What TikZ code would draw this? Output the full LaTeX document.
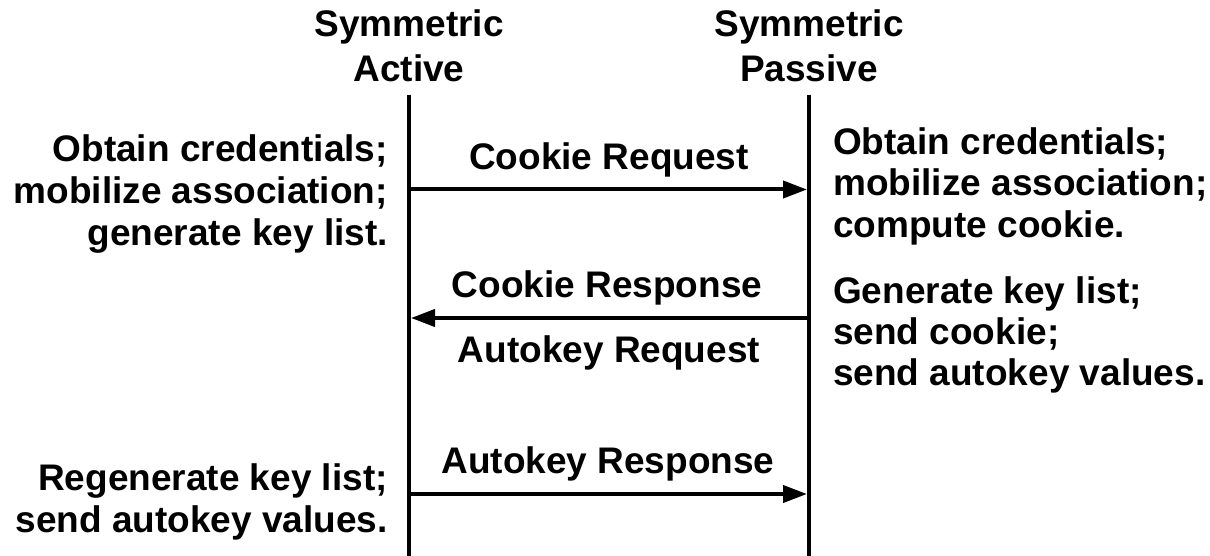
\documentclass[tikz,border=0pt]{standalone}
\usepackage{fontspec}
\setmainfont{Liberation Sans}
\usetikzlibrary{arrows.meta}
\begin{document}
\begin{tikzpicture}[x=1pt,y=-1pt,
  txt/.style={inner sep=0pt,font=\fontsize{37}{44}\selectfont\bfseries},
  lifeline/.style={line width=4.5pt},
  msg/.style={line width=4pt,-{Triangle[length=24pt,width=17pt]}}]
\useasboundingbox (0,0) rectangle (1210,556);
% lifelines
\coordinate (At) at (409,95);
\coordinate (Ab) at (409,556);
\coordinate (Pt) at (809,95);
\coordinate (Pb) at (809,556);
\draw[lifeline] (At) -- (Ab);
\draw[lifeline] (Pt) -- (Pb);
% headers
\node[txt,anchor=base] (h1) at (409,37) {Symmetric};
\node[txt,anchor=base] (h2) at (409,82) {Active};
\node[txt,anchor=base] (h3) at (809,37) {Symmetric};
\node[txt,anchor=base] (h4) at (809,82) {Passive};
% left block 1
\node[txt,anchor=base east] (l1) at (388,162) {Obtain credentials;};
\node[txt,anchor=base east] (l2) at (388,204) {mobilize association;};
\node[txt,anchor=base east] (l3) at (388,246) {generate key list.};
% left block 2
\node[txt,anchor=base east] (l4) at (388,490) {Regenerate key list;};
\node[txt,anchor=base east] (l5) at (388,532) {send autokey values.};
% right block 1
\node[txt,anchor=base west] (r1) at (833,155) {Obtain credentials;};
\node[txt,anchor=base west] (r2) at (833,196) {mobilize association;};
\node[txt,anchor=base west] (r3) at (833,237) {compute cookie.};
% right block 2
\node[txt,anchor=base west] (r4) at (833,303) {Generate key list;};
\node[txt,anchor=base west] (r5) at (833,344) {send cookie;};
\node[txt,anchor=base west] (r6) at (833,385) {send autokey values.};
% message labels
\node[txt,anchor=base] (m1) at (609,170) {Cookie Request};
\node[txt,anchor=base] (m2) at (607,297) {Cookie Response};
\node[txt,anchor=base] (m3) at (609,362) {Autokey Request};
\node[txt,anchor=base] (m4) at (608,473) {Autokey Response};
% message arrows
\coordinate (a1s) at (411,189.5);
\coordinate (a1e) at (807,189.5);
\coordinate (a2s) at (807,318);
\coordinate (a2e) at (411,318);
\coordinate (a3s) at (411,494);
\coordinate (a3e) at (807,494);
\draw[msg] (a1s) -- (a1e);
\draw[msg] (a2s) -- (a2e);
\draw[msg] (a3s) -- (a3e);
\end{tikzpicture}
\end{document}
